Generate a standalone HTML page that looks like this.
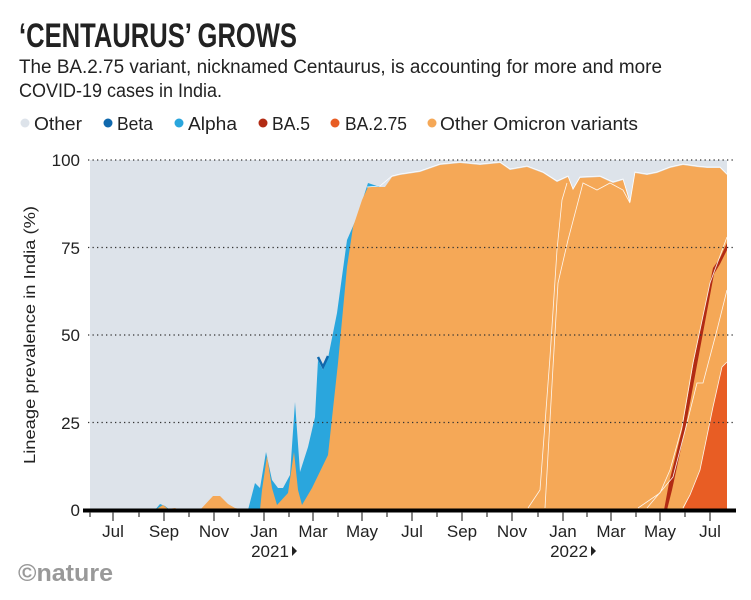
<!DOCTYPE html>
<html><head><meta charset="utf-8"><style>
html,body{margin:0;padding:0;background:#fff;}
svg{display:block;}
text{font-family:"Liberation Sans",sans-serif;}
</style></head><body>
<svg width="751" height="600" viewBox="0 0 751 600">
<text x="19" y="47" font-size="34" font-weight="bold" fill="#222" textLength="278" lengthAdjust="spacingAndGlyphs">‘CENTAURUS’ GROWS</text>
<text x="19" y="73" font-size="19" fill="#222" textLength="643" lengthAdjust="spacingAndGlyphs">The BA.2.75 variant, nicknamed Centaurus, is accounting for more and more</text>
<text x="19" y="97" font-size="19" fill="#222" textLength="203" lengthAdjust="spacingAndGlyphs">COVID-19 cases in India.</text>
<g font-size="18" fill="#222">
<circle cx="25" cy="123" r="4.5" fill="#dde3ea"/><text x="34" y="130" textLength="48" lengthAdjust="spacingAndGlyphs">Other</text>
<circle cx="108" cy="123" r="4.5" fill="#0f68ad"/><text x="117" y="130" textLength="36" lengthAdjust="spacingAndGlyphs">Beta</text>
<circle cx="179" cy="123" r="4.5" fill="#2aa6dd"/><text x="188" y="130" textLength="49" lengthAdjust="spacingAndGlyphs">Alpha</text>
<circle cx="263" cy="123" r="4.5" fill="#b22b14"/><text x="272" y="130" textLength="38" lengthAdjust="spacingAndGlyphs">BA.5</text>
<circle cx="335" cy="123" r="4.5" fill="#e85d24"/><text x="345" y="130" textLength="62" lengthAdjust="spacingAndGlyphs">BA.2.75</text>
<circle cx="432" cy="123" r="4.5" fill="#f5a857"/><text x="440" y="130" textLength="198" lengthAdjust="spacingAndGlyphs">Other Omicron variants</text>
</g>
<rect x="90" y="160" width="637" height="350" fill="#dde3ea"/>
<polygon fill="#2aa6dd" points="155,510 160,504 165,506 170,510 248,510 255,483 260,488 266,452 272,480 278,488 283,488 290,475 295,402 300,472 308,447 315,417 318,360 323,370 328,358 337,313 347,240 357,217 368,183 380,187 380,510"/>
<polyline fill="none" stroke="#0f68ad" stroke-width="2.5" points="318,357 323,367 328,356"/>
<polygon fill="#f5a857" points="90,510 155,510 163,505 168,509 175,508 180,510 200,510 213,496 220,496 228,504 235,508 245,510 260,510 262,490 267,456 272,488 277,505 288,493 294,452 298,490 302,505 312,488 328,455 338,363 347,267 353,227 362,200 368,187 378,187 385,187 392,177 400,175 420,172 440,165 460,163 480,165 500,163 510,170 527,167 543,173 557,182 568,177 573,190 580,178 600,177 613,183 623,180 630,203 635,173 647,175 657,173 670,168 683,165 697,167 707,168 720,168 727,175 727,510"/>
<polyline fill="none" stroke="#fff" stroke-width="0.8" points="367,187 380,186 392,176 400,174 420,171 440,164 460,162 480,164 500,162 510,169 527,166 543,172 557,181 568,176 573,189 580,177 600,176 613,182 623,179 630,202 635,172 647,174 657,172 670,167 683,164 697,166 707,167 720,167 727,174"/>
<polygon fill="#b22b14" points="664,510 669,483 682,430 694,360 713,268 720,258 727,243 727,250 720,264 714,274 697,365 685,430 672,490 667,510"/>
<polygon fill="#e85d24" points="683,510 690,495 700,470 713,407 722,367 727,362 727,510"/>
<g fill="none" stroke="#fff" stroke-width="0.8" opacity="0.9">
<polyline points="528,508 540,490 550,357 557,250 562,200 567,183"/>
<polyline points="545,508 553,367 558,283 568,240 583,183 597,190 610,183 623,190 630,203"/>
<polyline points="638,508 660,493 670,470 682,427 693,363 710,283 727,237"/>
<polyline points="647,508 673,477 687,423 697,383 703,383 717,330 727,290"/>
<polyline points="683,508 690,495 700,470 713,407 722,367 727,362"/>
</g>
<g stroke="#333" stroke-width="1.3" stroke-dasharray="1.3,3.2">
<line x1="88" y1="160" x2="735" y2="160"/>
<line x1="88" y1="247.5" x2="735" y2="247.5"/>
<line x1="88" y1="335" x2="735" y2="335"/>
<line x1="88" y1="422.5" x2="735" y2="422.5"/>
</g>
<line x1="83" y1="510.5" x2="736" y2="510.5" stroke="#000" stroke-width="4"/>
<g font-size="17" fill="#222" text-anchor="end">
<text x="80" y="166">100</text><text x="80" y="254">75</text><text x="80" y="341">50</text><text x="80" y="429">25</text><text x="80" y="516">0</text>
</g>
<text transform="translate(35,335) rotate(-90)" font-size="16" fill="#222" text-anchor="middle" textLength="258" lengthAdjust="spacingAndGlyphs">Lineage prevalence in India (%)</text>
<g stroke="#333" stroke-width="1.2">
<line x1="90" y1="512" x2="90" y2="517"/><line x1="113" y1="512" x2="113" y2="521"/><line x1="139" y1="512" x2="139" y2="517"/><line x1="164" y1="512" x2="164" y2="521"/><line x1="189" y1="512" x2="189" y2="517"/><line x1="214" y1="512" x2="214" y2="521"/><line x1="239" y1="512" x2="239" y2="517"/><line x1="264" y1="512" x2="264" y2="521"/><line x1="289" y1="512" x2="289" y2="517"/><line x1="313" y1="512" x2="313" y2="521"/><line x1="338" y1="512" x2="338" y2="517"/><line x1="362" y1="512" x2="362" y2="521"/><line x1="387" y1="512" x2="387" y2="517"/><line x1="412" y1="512" x2="412" y2="521"/><line x1="437" y1="512" x2="437" y2="517"/><line x1="462" y1="512" x2="462" y2="521"/><line x1="487" y1="512" x2="487" y2="517"/><line x1="512" y1="512" x2="512" y2="521"/><line x1="538" y1="512" x2="538" y2="517"/><line x1="563" y1="512" x2="563" y2="521"/><line x1="587" y1="512" x2="587" y2="517"/><line x1="611" y1="512" x2="611" y2="521"/><line x1="636" y1="512" x2="636" y2="517"/><line x1="660" y1="512" x2="660" y2="521"/><line x1="685" y1="512" x2="685" y2="517"/><line x1="710" y1="512" x2="710" y2="521"/>
</g>
<g font-size="17" fill="#222" text-anchor="middle">
<text x="113" y="537">Jul</text><text x="164" y="537">Sep</text><text x="214" y="537">Nov</text><text x="264" y="537">Jan</text><text x="313" y="537">Mar</text><text x="362" y="537">May</text><text x="412" y="537">Jul</text><text x="462" y="537">Sep</text><text x="512" y="537">Nov</text><text x="563" y="537">Jan</text><text x="611" y="537">Mar</text><text x="660" y="537">May</text><text x="710" y="537">Jul</text>
<text x="270" y="557">2021</text><text x="569" y="557">2022</text>
</g>
<polygon points="292,546 297,551 292,556" fill="#222"/>
<polygon points="591,546 596,551 591,556" fill="#222"/>
<text x="18" y="581" font-size="24" font-weight="bold" fill="#999" textLength="95" lengthAdjust="spacingAndGlyphs">©nature</text>
</svg>
</body></html>
